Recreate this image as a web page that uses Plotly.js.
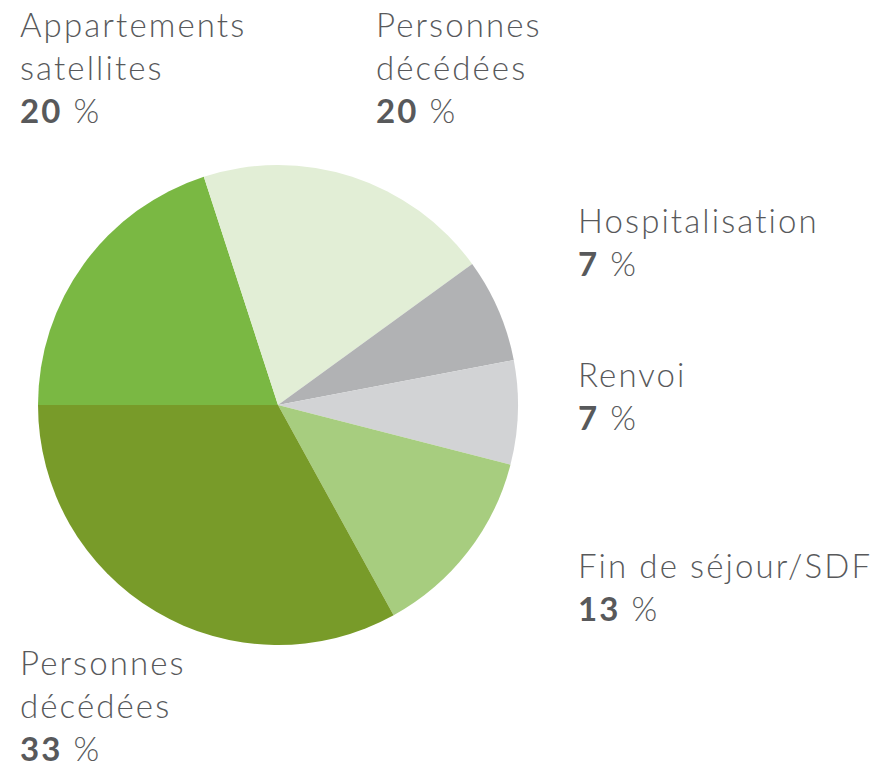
<!DOCTYPE html>
<html>
<head>
<meta charset="utf-8">
<script src="https://cdn.plot.ly/plotly-3.0.1.min.js"></script>
<style>
html,body{margin:0;padding:0;background:#fff;}
#chart{width:875px;height:768px;}
#chart .annotation-text{letter-spacing:2.1px;}
</style>
</head>
<body>
<div id="chart"></div>
<script>
const categories = ["Appartements satellites", "Personnes décédées", "Hospitalisation", "Renvoi", "Fin de séjour/SDF", "Personnes décédées"];
const labelLines = [["Appartements", "satellites"], ["Personnes", "décédées"], ["Hospitalisation"], ["Renvoi"], ["Fin de séjour/SDF"], ["Personnes", "décédées"]];
const values = [20, 20, 7, 7, 13, 33];
const colors = ["#7ab843", "#e2eed6", "#b1b2b4", "#d2d3d5", "#a7cd7f", "#789b29"];

// label anchor positions (pixels, left x / top y of block)
const labelPos = [[18, 2], [374, 2], [576, 198], [576, 352], [576, 543], [18, 640]];

const W = 875, H = 768;
const textColor = "#58595b";
const fontFamily = "Lato, 'Open Sans', sans-serif";

const annotations = categories.map((c, i) => {
  const txt = labelLines[i].join("<br>") + "<br><b>" + values[i] + "</b> %";
  return {
    text: txt,
    xref: "paper", yref: "paper",
    x: labelPos[i][0] / W, y: 1 - labelPos[i][1] / H,
    xanchor: "left", yanchor: "top", align: "left",
    showarrow: false,
    font: {family: fontFamily, size: 33, color: textColor, weight: 300}
  };
});

const cx = 278, cy = 405, r = 240;
const trace = {
  type: "pie",
  labels: categories.map((c, i) => c + " (" + (i + 1) + ")"),
  values: values,
  sort: false,
  direction: "clockwise",
  rotation: 270,
  textinfo: "none",
  hoverinfo: "none",
  marker: {colors: colors, line: {width: 0}},
  domain: {x: [(cx - r) / W, (cx + r) / W], y: [(H - cy - r) / H, (H - cy + r) / H]},
  showlegend: false
};

Plotly.newPlot("chart", [trace], {
  width: W, height: H,
  margin: {l: 0, r: 0, t: 0, b: 0},
  paper_bgcolor: "#fff",
  showlegend: false,
  annotations: annotations
}, {staticPlot: true});
</script>
</body>
</html>
